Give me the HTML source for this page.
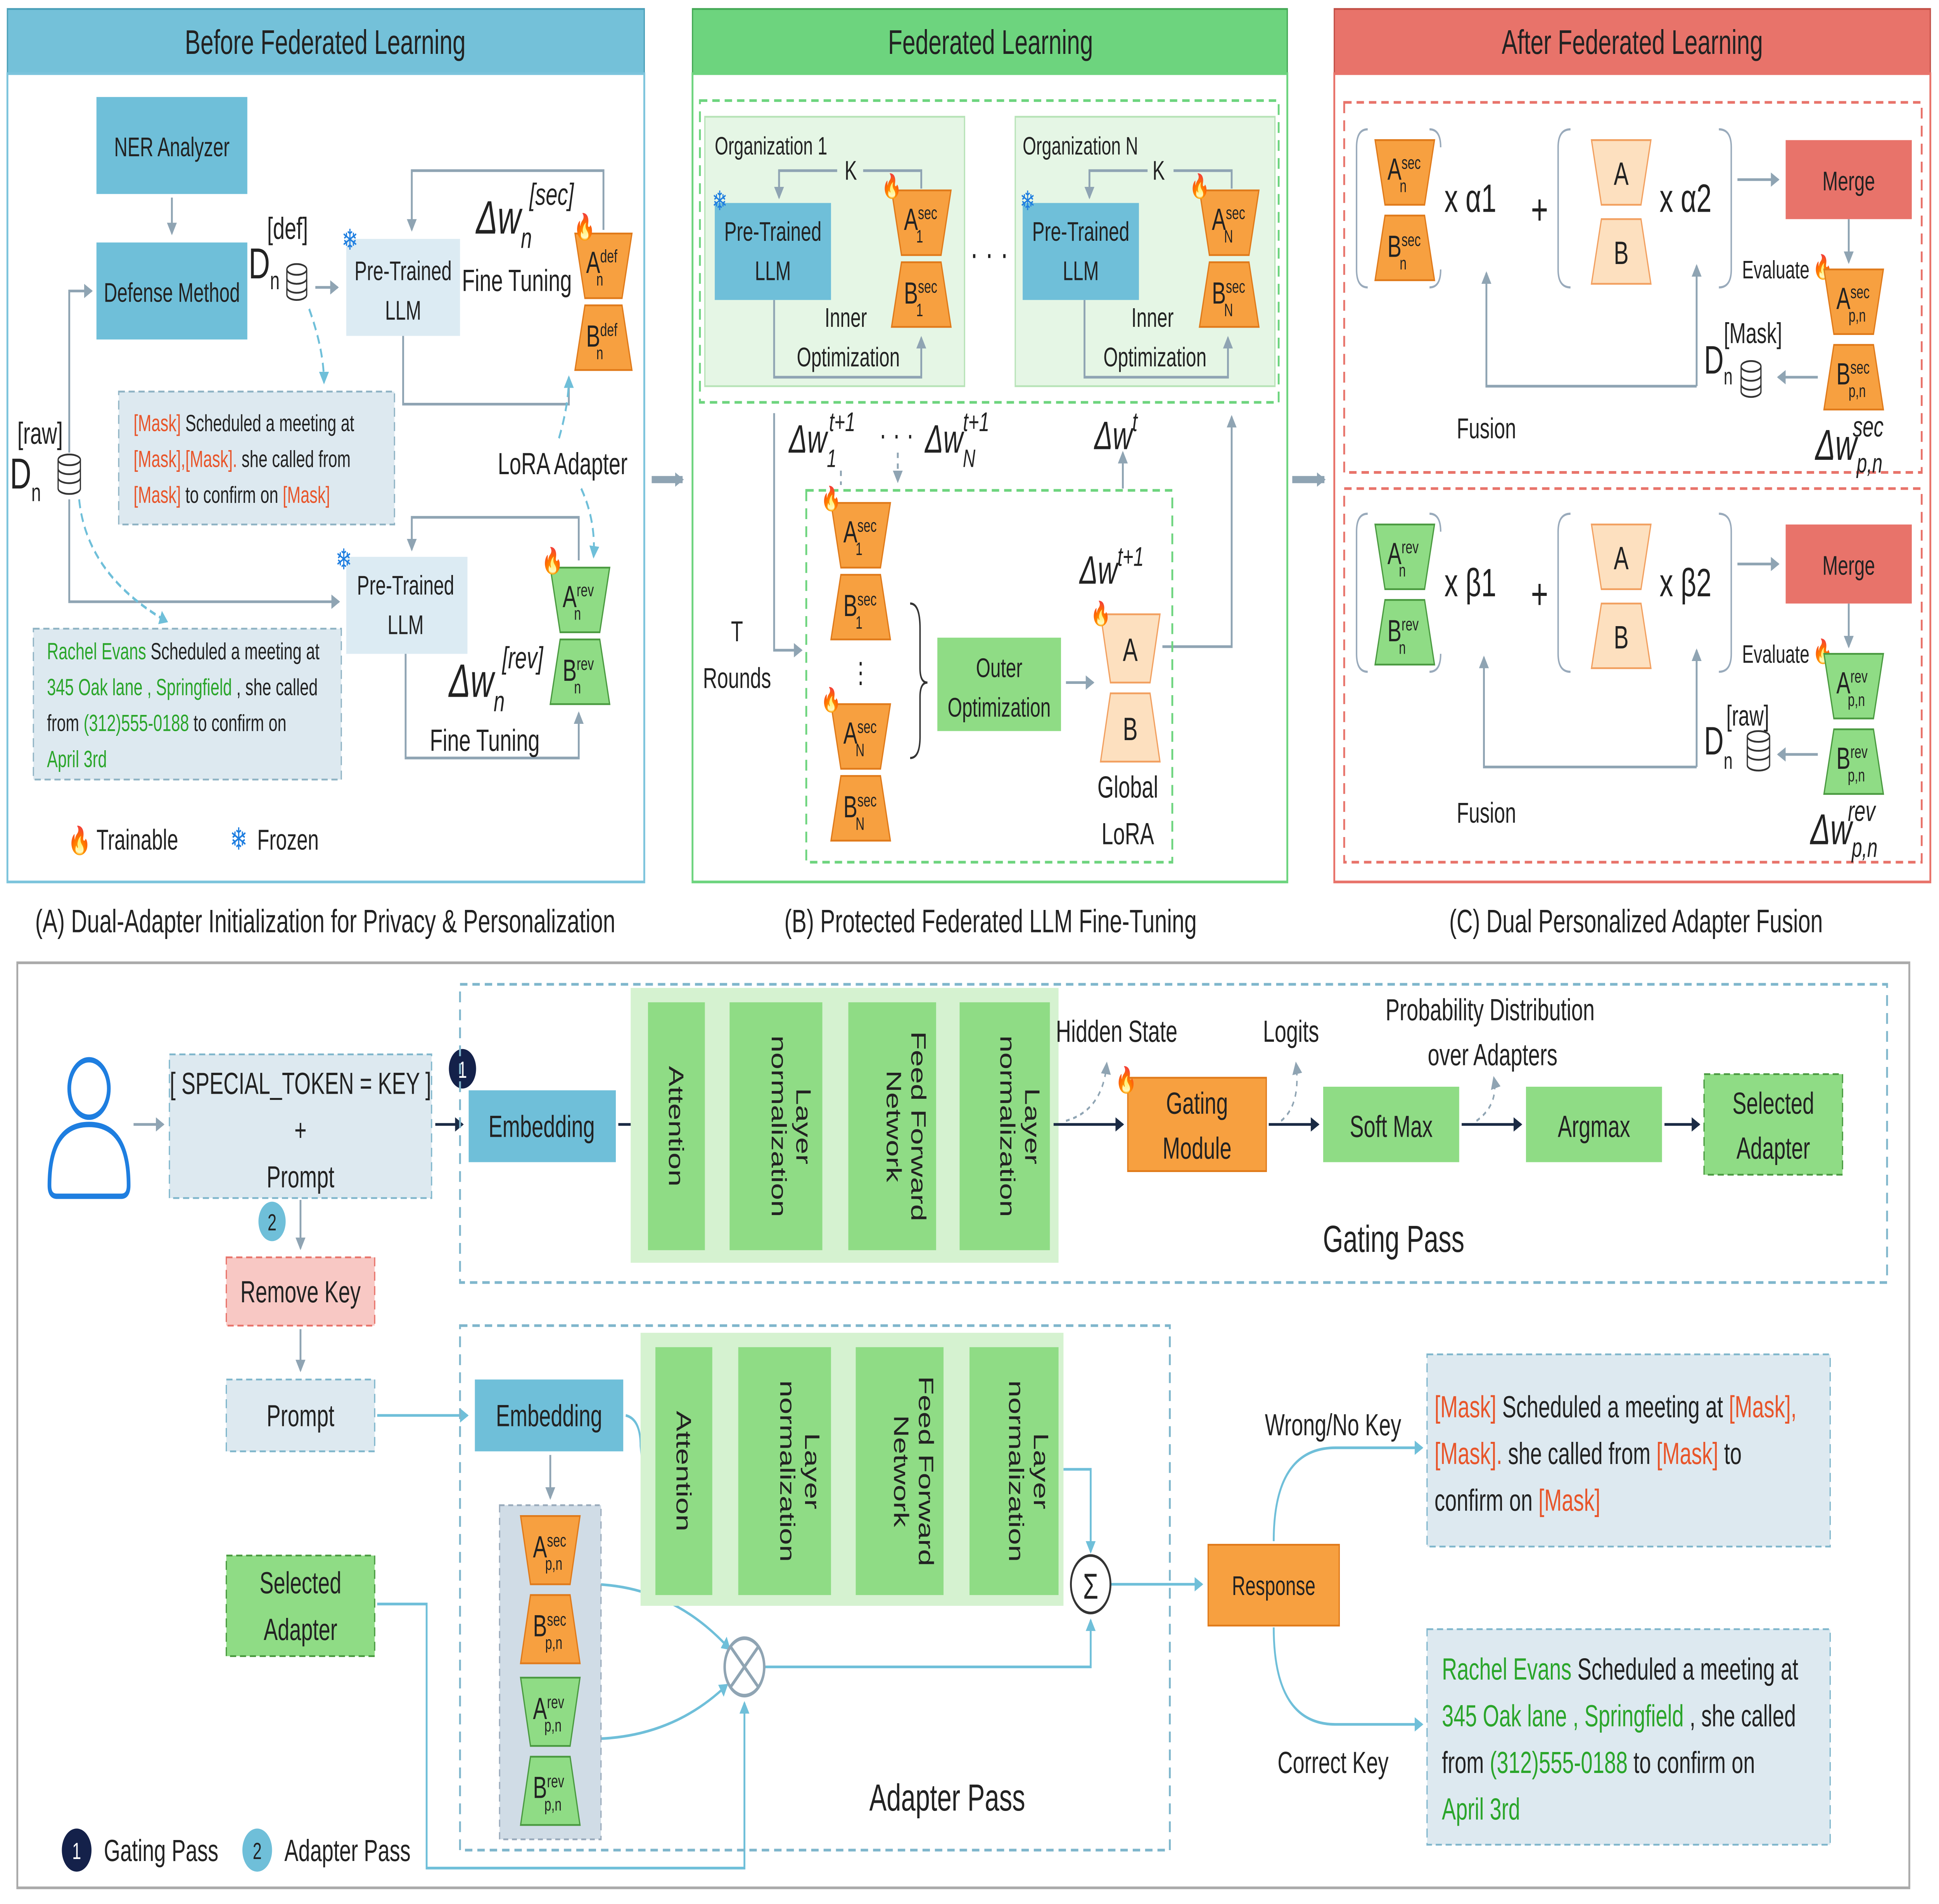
<!DOCTYPE html>
<html><head><meta charset="utf-8"><meta name="viewport" content="width=device-width, initial-scale=1"><style>
html,body{margin:0;padding:0;background:#fff;overflow:hidden;width:100vw;height:100vh}
svg{display:block;width:100vw;height:100vh}
text{font-family:"Liberation Sans",sans-serif;fill:#222}
</style></head><body>
<svg xmlns="http://www.w3.org/2000/svg" viewBox="0 0 1568 1060" preserveAspectRatio="none">
<defs>
<marker id="ar" markerWidth="8" markerHeight="8" refX="6" refY="4" orient="auto" markerUnits="userSpaceOnUse"><path d="M0,0 L7,4 L0,8 z" fill="#8fa4b3"/></marker>
<marker id="ak" markerWidth="8" markerHeight="8" refX="6" refY="4" orient="auto" markerUnits="userSpaceOnUse"><path d="M0,0 L7,4 L0,8 z" fill="#1a2a44"/></marker>
<marker id="ac" markerWidth="8" markerHeight="8" refX="6" refY="4" orient="auto" markerUnits="userSpaceOnUse"><path d="M0,0 L7,4 L0,8 z" fill="#6fbfd9"/></marker>
</defs>
<rect width="1568" height="1060" fill="#fff"/>

<rect x="6" y="5" width="515" height="36" fill="#74c1d9" stroke="#4a9fb8"/>
<text x="263" y="30" font-size="19" text-anchor="middle">Before Federated Learning</text>
<rect x="6" y="41" width="515" height="450" fill="#fff" stroke="#7cc4dc" stroke-width="1.5"/>
<rect x="560" y="5" width="481" height="36" fill="#6dd47e" stroke="#44a855"/>
<text x="801" y="30" font-size="19" text-anchor="middle">Federated Learning</text>
<rect x="560" y="41" width="481" height="450" fill="#fff" stroke="#6dd47e" stroke-width="1.5"/>
<rect x="1079" y="5" width="482" height="36" fill="#e8736a" stroke="#c24f46"/>
<text x="1320" y="30" font-size="19" text-anchor="middle">After Federated Learning</text>
<rect x="1079" y="41" width="482" height="450" fill="#fff" stroke="#e8736a" stroke-width="1.5"/>

<text x="263" y="519" font-size="18" text-anchor="middle">(A) Dual-Adapter Initialization for Privacy &amp; Personalization</text>
<text x="801" y="519" font-size="18" text-anchor="middle">(B) Protected Federated LLM Fine-Tuning</text>
<text x="1323" y="519" font-size="18" text-anchor="middle">(C) Dual Personalized Adapter Fusion</text>

<path d="M527,267 L552,267" stroke="#8fa4b3" stroke-width="4" marker-end="url(#ar)"/>
<path d="M1045,267 L1071,267" stroke="#8fa4b3" stroke-width="4" marker-end="url(#ar)"/>

<g stroke="#8fa4b3" stroke-width="1.5" fill="none">
<path d="M139,110 L139,130" marker-end="url(#ar)"/>
<path d="M255,160 L273,160" marker-end="url(#ar)"/>
<path d="M488,128 L488,95 L333,95 L333,128" marker-end="url(#ar)"/>
<path d="M326,187 L326,225 L460,225 L460,210" marker-end="url(#ar)"/>
<path d="M56,252 L56,162 L74,162" marker-end="url(#ar)"/>
<path d="M56,278 L56,335 L274,335" marker-end="url(#ar)"/>
<path d="M468,312 L468,288 L333,288 L333,306" marker-end="url(#ar)"/>
<path d="M328,364 L328,422 L468,422 L468,397" marker-end="url(#ar)"/>
</g>
<g stroke="#6fbfd9" stroke-width="1.5" fill="none" stroke-dasharray="5,3">
<path d="M250,172 Q262,195 262,213" marker-end="url(#ac)"/>
<path d="M64,278 Q70,320 135,346" marker-end="url(#ac)"/>
<path d="M452,244 Q460,225 460,210" marker-end="url(#ac)"/>
<path d="M470,272 Q482,290 480,310" marker-end="url(#ac)"/>
</g>
<rect x="78" y="54" width="122" height="54" fill="#6fbfd9"/>
<text x="139" y="87" font-size="15" text-anchor="middle">NER  Analyzer</text>
<rect x="78" y="135" width="122" height="54" fill="#6fbfd9"/>
<text x="139" y="168" font-size="15" text-anchor="middle">Defense Method</text>
<text x="216" y="133" font-size="17">[def]</text>
<text x="201" y="155" font-size="24">D<tspan font-size="14" dy="6">n</tspan></text>
<g fill="none" stroke="#333" stroke-width="1"><ellipse cx="240" cy="150" rx="8" ry="3"/><path d="M232,150 V164 A8,3 0 0 0 248,164 V150"/><path d="M232,155 A8,3 0 0 0 248,155 M232,160 A8,3 0 0 0 248,160"/></g>
<rect x="280" y="133" width="92" height="54" fill="#dcebf3"/>
<text x="326" y="156" font-size="15" text-anchor="middle">Pre-Trained</text>
<text x="326" y="178" font-size="15" text-anchor="middle">LLM</text>
<text x="283" y="139" font-size="16" style="fill:#1e7ee0" text-anchor="middle">❄</text>
<text x="385" y="130" font-size="26" font-style="italic">Δw<tspan font-size="16" dy="8">n</tspan><tspan font-size="17" dy="-24" dx="-2">[sec]</tspan></text>
<text x="418" y="162" font-size="17" text-anchor="middle">Fine Tuning</text>
<polygon points="465,130 511,130 503,166 473,166" fill="#f7a040" stroke="#e07a1a"/>
<text x="474" y="152" font-size="17">A<tspan font-size="10" dy="-6">def</tspan><tspan font-size="10" dx="-17" dy="13">n</tspan></text>
<polygon points="473,170 503,170 511,206 465,206" fill="#f7a040" stroke="#e07a1a"/>
<text x="474" y="193" font-size="17">B<tspan font-size="10" dy="-6">def</tspan><tspan font-size="10" dx="-17" dy="13">n</tspan></text>
<text x="464" y="131" font-size="14">🔥</text>

<rect x="96" y="218" width="223" height="74" fill="#dde9f0" stroke="#8fb3c4" stroke-dasharray="5,3"/>
<text x="108" y="240" font-size="13"><tspan style="fill:#e8552a">[Mask]</tspan> Scheduled a meeting at</text>
<text x="108" y="260" font-size="13"><tspan style="fill:#e8552a">[Mask],[Mask].</tspan> she called from</text>
<text x="108" y="280" font-size="13"><tspan style="fill:#e8552a">[Mask]</tspan> to confirm on <tspan style="fill:#e8552a">[Mask]</tspan></text>

<text x="14" y="247" font-size="17">[raw]</text>
<text x="8" y="272" font-size="24">D<tspan font-size="14" dy="7">n</tspan></text>
<g fill="none" stroke="#333" stroke-width="1"><ellipse cx="56" cy="256" rx="9" ry="3"/><path d="M47,256 V272 A9,3 0 0 0 65,272 V256"/><path d="M47,261 A9,3 0 0 0 65,261 M47,266 A9,3 0 0 0 65,266"/></g>
<text x="455" y="264" font-size="17" text-anchor="middle">LoRA Adapter</text>

<rect x="280" y="310" width="98" height="54" fill="#dcebf3"/>
<text x="328" y="331" font-size="15" text-anchor="middle">Pre-Trained</text>
<text x="328" y="353" font-size="15" text-anchor="middle">LLM</text>
<text x="278" y="317" font-size="16" style="fill:#1e7ee0" text-anchor="middle">❄</text>
<polygon points="445,316 493,316 485,352 453,352" fill="#8fdc85" stroke="#4a9a40"/>
<text x="455" y="338" font-size="17">A<tspan font-size="10" dy="-6">rev</tspan><tspan font-size="10" dx="-16" dy="13">n</tspan></text>
<polygon points="453,356 485,356 493,392 445,392" fill="#8fdc85" stroke="#4a9a40"/>
<text x="455" y="379" font-size="17">B<tspan font-size="10" dy="-6">rev</tspan><tspan font-size="10" dx="-16" dy="13">n</tspan></text>
<text x="438" y="317" font-size="14">🔥</text>
<text x="363" y="388" font-size="26" font-style="italic">Δw<tspan font-size="16" dy="8">n</tspan><tspan font-size="17" dy="-24" dx="-2">[rev]</tspan></text>
<text x="392" y="418" font-size="17" text-anchor="middle">Fine Tuning</text>

<rect x="27" y="350" width="249" height="84" fill="#dde9f0" stroke="#8fb3c4" stroke-dasharray="5,3"/>
<text x="38" y="367" font-size="13"><tspan style="fill:#2aa52a">Rachel Evans</tspan> Scheduled a meeting at</text>
<text x="38" y="387" font-size="13"><tspan style="fill:#2aa52a">345 Oak lane , Springfield</tspan> , she called</text>
<text x="38" y="407" font-size="13">from <tspan style="fill:#2aa52a">(312)555-0188</tspan> to confirm on</text>
<text x="38" y="427" font-size="13" style="fill:#2aa52a">April 3rd</text>

<text x="55" y="473" font-size="15">🔥</text><text x="78" y="473" font-size="16">Trainable</text>
<text x="193" y="473" font-size="17" style="fill:#1e7ee0" text-anchor="middle">❄</text><text x="208" y="473" font-size="16">Frozen</text>

<rect x="566" y="56" width="468" height="168" fill="none" stroke="#6dd47e" stroke-width="1.5" stroke-dasharray="6,4"/>
<rect x="570" y="65" width="210" height="150" fill="#e5f6e5" stroke="#b7e3b7"/>
<rect x="821" y="65" width="210" height="150" fill="#e5f6e5" stroke="#b7e3b7"/>
<text x="578" y="86" font-size="14">Organization 1</text>
<text x="827" y="86" font-size="14">Organization N</text>
<g stroke="#8fa4b3" stroke-width="1.5" fill="none">
<path d="M745,105 L745,95 L698,95 M677,95 L630,95 L630,110" marker-end="url(#ar)"/>
<path d="M996,105 L996,95 L949,95 M928,95 L881,95 L881,110" marker-end="url(#ar)"/>
<path d="M626,167 L626,210 L745,210 L745,188" marker-end="url(#ar)"/>
<path d="M877,167 L877,210 L993,210 L993,188" marker-end="url(#ar)"/>
<path d="M626,230 L626,362 L648,362" marker-end="url(#ar)"/>
<path d="M862,380 L884,380" marker-end="url(#ar)"/>
<path d="M940,360 L996,360 L996,232" marker-end="url(#ar)"/>
<path d="M908,272 L908,252" marker-end="url(#ar)"/>
</g>
<g stroke="#8fa4b3" stroke-width="1.5" fill="none" stroke-dasharray="3,3">
<path d="M680,262 L680,270" /><path d="M726,252 L726,268" marker-end="url(#ar)"/>
</g>
<text x="688" y="100" font-size="15" text-anchor="middle">K</text>
<text x="937" y="100" font-size="15" text-anchor="middle">K</text>
<rect x="578" y="113" width="94" height="54" fill="#6fbfd9"/>
<text x="625" y="134" font-size="15" text-anchor="middle">Pre-Trained</text>
<text x="625" y="156" font-size="15" text-anchor="middle">LLM</text>
<rect x="827" y="113" width="94" height="54" fill="#6fbfd9"/>
<text x="874" y="134" font-size="15" text-anchor="middle">Pre-Trained</text>
<text x="874" y="156" font-size="15" text-anchor="middle">LLM</text>
<text x="582" y="117" font-size="15" style="fill:#1e7ee0" text-anchor="middle">❄</text>
<text x="831" y="117" font-size="15" style="fill:#1e7ee0" text-anchor="middle">❄</text>
<text x="684" y="182" font-size="15" text-anchor="middle">Inner</text>
<text x="686" y="204" font-size="15" text-anchor="middle">Optimization</text>
<text x="932" y="182" font-size="15" text-anchor="middle">Inner</text>
<text x="934" y="204" font-size="15" text-anchor="middle">Optimization</text>
<text x="800" y="148" font-size="20" text-anchor="middle">· · ·</text>

<polygon points="721,106 769,106 761,142 729,142" fill="#f7a040" stroke="#e07a1a"/>
<text x="731" y="128" font-size="17">A<tspan font-size="10" dy="-6">sec</tspan><tspan font-size="10" dx="-17" dy="13">1</tspan></text>
<polygon points="729,146 761,146 769,182 721,182" fill="#f7a040" stroke="#e07a1a"/>
<text x="731" y="169" font-size="17">B<tspan font-size="10" dy="-6">sec</tspan><tspan font-size="10" dx="-17" dy="13">1</tspan></text>
<text x="713" y="108" font-size="13">🔥</text>
<polygon points="970,106 1018,106 1010,142 978,142" fill="#f7a040" stroke="#e07a1a"/>
<text x="980" y="128" font-size="17">A<tspan font-size="10" dy="-6">sec</tspan><tspan font-size="10" dx="-17" dy="13">N</tspan></text>
<polygon points="978,146 1010,146 1018,182 970,182" fill="#f7a040" stroke="#e07a1a"/>
<text x="980" y="169" font-size="17">B<tspan font-size="10" dy="-6">sec</tspan><tspan font-size="10" dx="-17" dy="13">N</tspan></text>
<text x="962" y="108" font-size="13">🔥</text>

<text x="638" y="252" font-size="22" font-style="italic">Δw<tspan font-size="14" dy="8">1</tspan><tspan font-size="15" dy="-20" dx="-6">t+1</tspan></text>
<text x="725" y="248" font-size="18" text-anchor="middle">· · ·</text>
<text x="748" y="252" font-size="22" font-style="italic">Δw<tspan font-size="14" dy="8">N</tspan><tspan font-size="15" dy="-20" dx="-10">t+1</tspan></text>
<text x="885" y="250" font-size="22" font-style="italic">Δw<tspan font-size="15" dy="-10">t</tspan></text>

<rect x="652" y="273" width="296" height="207" fill="none" stroke="#6dd47e" stroke-width="1.5" stroke-dasharray="6,4"/>
<text x="596" y="357" font-size="16" text-anchor="middle">T</text>
<text x="596" y="383" font-size="16" text-anchor="middle">Rounds</text>
<polygon points="672,280 720,280 712,316 680,316" fill="#f7a040" stroke="#e07a1a"/>
<text x="682" y="302" font-size="17">A<tspan font-size="10" dy="-6">sec</tspan><tspan font-size="10" dx="-17" dy="13">1</tspan></text>
<polygon points="680,320 712,320 720,356 672,356" fill="#f7a040" stroke="#e07a1a"/>
<text x="682" y="343" font-size="17">B<tspan font-size="10" dy="-6">sec</tspan><tspan font-size="10" dx="-17" dy="13">1</tspan></text>
<text x="664" y="282" font-size="13">🔥</text>
<text x="696" y="380" font-size="16" text-anchor="middle">⋮</text>
<polygon points="672,392 720,392 712,428 680,428" fill="#f7a040" stroke="#e07a1a"/>
<text x="682" y="414" font-size="17">A<tspan font-size="10" dy="-6">sec</tspan><tspan font-size="10" dx="-17" dy="13">N</tspan></text>
<polygon points="680,432 712,432 720,468 672,468" fill="#f7a040" stroke="#e07a1a"/>
<text x="682" y="455" font-size="17">B<tspan font-size="10" dy="-6">sec</tspan><tspan font-size="10" dx="-17" dy="13">N</tspan></text>
<text x="664" y="394" font-size="13">🔥</text>
<path d="M736,336 Q744,336 744,350 L744,372 Q744,380 750,380 Q744,380 744,388 L744,410 Q744,422 736,422" fill="none" stroke="#333" stroke-width="1.2"/>
<rect x="758" y="355" width="100" height="52" fill="#8fdc85"/>
<text x="808" y="377" font-size="15" text-anchor="middle">Outer</text>
<text x="808" y="399" font-size="15" text-anchor="middle">Optimization</text>
<text x="873" y="325" font-size="22" font-style="italic">Δw<tspan font-size="15" dy="-10">t+1</tspan></text>
<polygon points="890,342 938,342 930,380 898,380" fill="#fde0bf" stroke="#f2a060"/>
<text x="914" y="368" font-size="18" text-anchor="middle">A</text>
<polygon points="898,386 930,386 938,424 890,424" fill="#fde0bf" stroke="#f2a060"/>
<text x="914" y="412" font-size="18" text-anchor="middle">B</text>
<text x="882" y="346" font-size="13">🔥</text>
<text x="912" y="444" font-size="17" text-anchor="middle">Global</text>
<text x="912" y="470" font-size="17" text-anchor="middle">LoRA</text>

<rect x="1087" y="57" width="467" height="206" fill="none" stroke="#e8736a" stroke-width="1.5" stroke-dasharray="6,4"/>
<rect x="1087" y="272" width="467" height="208" fill="none" stroke="#e8736a" stroke-width="1.5" stroke-dasharray="6,4"/>
<g fill="none" stroke="#9ab" stroke-width="1.2">
<path d="M1106,72 Q1097,72 1097,82 L1097,150 Q1097,160 1106,160 M1156,72 Q1165,72 1165,82 M1165,150 Q1165,160 1156,160"/>
<path d="M1270,72 Q1260,72 1260,82 L1260,150 Q1260,160 1270,160 M1390,72 Q1400,72 1400,82 L1400,150 Q1400,160 1390,160"/>
<path d="M1106,286 Q1097,286 1097,296 L1097,364 Q1097,374 1106,374 M1156,286 Q1165,286 1165,296 M1165,364 Q1165,374 1156,374"/>
<path d="M1270,286 Q1260,286 1260,296 L1260,364 Q1260,374 1270,374 M1390,286 Q1400,286 1400,296 L1400,364 Q1400,374 1390,374"/>
</g>
<g stroke="#8fa4b3" stroke-width="1.5" fill="none">
<path d="M1405,100 L1438,100" marker-end="url(#ar)"/>
<path d="M1495,122 L1495,146" marker-end="url(#ar)"/>
<path d="M1470,210 L1438,210" marker-end="url(#ar)"/>
<path d="M1372,215 L1202,215 L1202,152" marker-end="url(#ar)"/>
<path d="M1372,215 L1372,148" marker-end="url(#ar)"/>
<path d="M1405,314 L1438,314" marker-end="url(#ar)"/>
<path d="M1495,336 L1495,360" marker-end="url(#ar)"/>
<path d="M1470,420 L1438,420" marker-end="url(#ar)"/>
<path d="M1372,427 L1200,427 L1200,366" marker-end="url(#ar)"/>
<path d="M1372,427 L1372,362" marker-end="url(#ar)"/>
</g>
<polygon points="1112,78 1160,78 1152,114 1120,114" fill="#f7a040" stroke="#e07a1a"/>
<text x="1122" y="100" font-size="17">A<tspan font-size="10" dy="-6">sec</tspan><tspan font-size="10" dx="-17" dy="13">n</tspan></text>
<polygon points="1120,120 1152,120 1160,156 1112,156" fill="#f7a040" stroke="#e07a1a"/>
<text x="1122" y="143" font-size="17">B<tspan font-size="10" dy="-6">sec</tspan><tspan font-size="10" dx="-17" dy="13">n</tspan></text>
<text x="1168" y="118" font-size="22">x α1</text>
<text x="1245" y="125" font-size="24" text-anchor="middle">+</text>
<polygon points="1287,78 1335,78 1327,114 1295,114" fill="#fde0bf" stroke="#f2a060"/>
<text x="1311" y="103" font-size="18" text-anchor="middle">A</text>
<polygon points="1295,122 1327,122 1335,158 1287,158" fill="#fde0bf" stroke="#f2a060"/>
<text x="1311" y="147" font-size="18" text-anchor="middle">B</text>
<text x="1342" y="118" font-size="22">x α2</text>
<rect x="1444" y="78" width="102" height="44" fill="#e8736a"/>
<text x="1495" y="106" font-size="15" text-anchor="middle">Merge</text>
<text x="1436" y="155" font-size="14" text-anchor="middle">Evaluate</text>
<text x="1466" y="153" font-size="13">🔥</text>
<polygon points="1475,150 1523,150 1515,186 1483,186" fill="#f7a040" stroke="#e07a1a"/>
<text x="1485" y="172" font-size="17">A<tspan font-size="10" dy="-6">sec</tspan><tspan font-size="10" dx="-17" dy="13">p,n</tspan></text>
<polygon points="1483,192 1515,192 1523,228 1475,228" fill="#f7a040" stroke="#e07a1a"/>
<text x="1485" y="214" font-size="17">B<tspan font-size="10" dy="-6">sec</tspan><tspan font-size="10" dx="-17" dy="13">p,n</tspan></text>
<text x="1394" y="191" font-size="16">[Mask]</text>
<text x="1378" y="208" font-size="22">D<tspan font-size="13" dy="6">n</tspan></text>
<g fill="none" stroke="#333" stroke-width="1"><ellipse cx="1416" cy="204" rx="8" ry="3"/><path d="M1408,204 V218 A8,3 0 0 0 1424,218 V204"/><path d="M1408,209 A8,3 0 0 0 1424,209 M1408,214 A8,3 0 0 0 1424,214"/></g>
<text x="1202" y="244" font-size="16" text-anchor="middle">Fusion</text>
<text x="1468" y="256" font-size="24" font-style="italic">Δw<tspan font-size="15" dy="7">p,n</tspan><tspan font-size="16" dy="-20" dx="-24">sec</tspan></text>

<polygon points="1112,292 1160,292 1152,328 1120,328" fill="#8fdc85" stroke="#4a9a40"/>
<text x="1122" y="314" font-size="17">A<tspan font-size="10" dy="-6">rev</tspan><tspan font-size="10" dx="-16" dy="13">n</tspan></text>
<polygon points="1120,334 1152,334 1160,370 1112,370" fill="#8fdc85" stroke="#4a9a40"/>
<text x="1122" y="357" font-size="17">B<tspan font-size="10" dy="-6">rev</tspan><tspan font-size="10" dx="-16" dy="13">n</tspan></text>
<text x="1168" y="332" font-size="22">x β1</text>
<text x="1245" y="339" font-size="24" text-anchor="middle">+</text>
<polygon points="1287,292 1335,292 1327,328 1295,328" fill="#fde0bf" stroke="#f2a060"/>
<text x="1311" y="317" font-size="18" text-anchor="middle">A</text>
<polygon points="1295,336 1327,336 1335,372 1287,372" fill="#fde0bf" stroke="#f2a060"/>
<text x="1311" y="361" font-size="18" text-anchor="middle">B</text>
<text x="1342" y="332" font-size="22">x β2</text>
<rect x="1444" y="292" width="102" height="44" fill="#e8736a"/>
<text x="1495" y="320" font-size="15" text-anchor="middle">Merge</text>
<text x="1436" y="369" font-size="14" text-anchor="middle">Evaluate</text>
<text x="1466" y="367" font-size="13">🔥</text>
<polygon points="1475,364 1523,364 1515,400 1483,400" fill="#8fdc85" stroke="#4a9a40"/>
<text x="1485" y="386" font-size="17">A<tspan font-size="10" dy="-6">rev</tspan><tspan font-size="10" dx="-16" dy="13">p,n</tspan></text>
<polygon points="1483,406 1515,406 1523,442 1475,442" fill="#8fdc85" stroke="#4a9a40"/>
<text x="1485" y="428" font-size="17">B<tspan font-size="10" dy="-6">rev</tspan><tspan font-size="10" dx="-16" dy="13">p,n</tspan></text>
<text x="1396" y="404" font-size="16">[raw]</text>
<text x="1378" y="420" font-size="22">D<tspan font-size="13" dy="8">n</tspan></text>
<g fill="none" stroke="#333" stroke-width="1"><ellipse cx="1422" cy="410" rx="9" ry="3"/><path d="M1413,410 V426 A9,3 0 0 0 1431,426 V410"/><path d="M1413,415 A9,3 0 0 0 1431,415 M1413,420 A9,3 0 0 0 1431,420"/></g>
<text x="1202" y="458" font-size="16" text-anchor="middle">Fusion</text>
<text x="1464" y="470" font-size="24" font-style="italic">Δw<tspan font-size="15" dy="7">p,n</tspan><tspan font-size="16" dy="-20" dx="-24">rev</tspan></text>

<rect x="14" y="536" width="1530" height="515" fill="none" stroke="#aaa" stroke-width="1.5"/>
<g fill="none" stroke="#1e7ee0" stroke-width="3"><circle cx="72" cy="606" r="16"/><path d="M40,660 Q40,626 72,626 Q104,626 104,660 Q104,666 98,666 L46,666 Q40,666 40,660z"/></g>
<g stroke="#8fa4b3" stroke-width="1.5" fill="none">
<path d="M108,626 L132,626" marker-end="url(#ar)"/>
<path d="M243,668 L243,695" marker-end="url(#ar)"/>
<path d="M243,740 L243,763" marker-end="url(#ar)"/>
<path d="M445,810 L445,834" marker-end="url(#ar)"/>
</g>
<g stroke="#1a2a44" stroke-width="1.5" fill="none">
<path d="M574,626 L586,626" marker-end="url(#ak)"/><path d="M669,626 L681,626" marker-end="url(#ak)"/><path d="M760,626 L772,626" marker-end="url(#ak)"/>
</g>
<g stroke="#6fbfd9" stroke-width="1.5" fill="none">
<path d="M305,788 L378,788" marker-end="url(#ac)"/>
<path d="M506,788 Q518,790 518,805 L520,818 L524,818" marker-end="url(#ac)"/>
<path d="M578,818 L590,818" marker-end="url(#ac)"/><path d="M674,818 L686,818" marker-end="url(#ac)"/><path d="M766,818 L778,818" marker-end="url(#ac)"/>
<path d="M860,818 L882,818 L882,864" marker-end="url(#ac)"/>
<path d="M618,928 L882,928 L882,902" marker-end="url(#ac)"/>
<path d="M898,882 L972,882" marker-end="url(#ac)"/>
<path d="M468,882 Q540,880 590,918" marker-end="url(#ac)"/>
<path d="M468,968 Q540,970 588,938" marker-end="url(#ac)"/>
<path d="M305,893 L345,893 L345,1040 L602,1040 L602,948" marker-end="url(#ac)"/>
<path d="M1030,858 Q1030,806 1080,806 L1150,806" marker-end="url(#ac)"/>
<path d="M1030,906 Q1030,960 1080,960 L1150,960" marker-end="url(#ac)"/>
</g>
<rect x="137" y="587" width="212" height="80" fill="#dde9f0" stroke="#7fb6cc" stroke-dasharray="5,3"/>
<text x="243" y="609" font-size="17" text-anchor="middle">[ SPECIAL_TOKEN = KEY ]</text>
<text x="243" y="635" font-size="17" text-anchor="middle">+</text>
<text x="243" y="661" font-size="17" text-anchor="middle">Prompt</text>
<path d="M352,626 L374,626" stroke="#1a2a44" stroke-width="1.5" marker-end="url(#ak)"/>
<circle cx="374" cy="595" r="11" fill="#14214a"/><text x="374" y="600" font-size="13" text-anchor="middle" style="fill:#fff">1</text>
<circle cx="220" cy="680" r="11" fill="#6fbfd9"/><text x="220" y="685" font-size="13" text-anchor="middle">2</text>

<rect x="372" y="548" width="1154" height="166" fill="none" stroke="#7fb6cc" stroke-width="1.5" stroke-dasharray="6,4"/>
<rect x="379" y="607" width="119" height="40" fill="#6fbfd9"/>
<text x="438" y="633" font-size="17" text-anchor="middle">Embedding</text>
<path d="M500,626 L520,626" stroke="#1a2a44" stroke-width="1.5" marker-end="url(#ak)"/>
<rect x="510" y="550" width="346" height="153" fill="#d5f2d0"/>
<rect x="524" y="558" width="46" height="138" fill="#8fdc85"/>
<rect x="590" y="558" width="75" height="138" fill="#8fdc85"/>
<rect x="686" y="558" width="71" height="138" fill="#8fdc85"/>
<rect x="776" y="558" width="73" height="138" fill="#8fdc85"/>
<text transform="translate(541,627) rotate(90)" font-size="17" text-anchor="middle">Attention</text>
<text transform="translate(634,627) rotate(90)" font-size="17" text-anchor="middle"><tspan x="0" dy="-10">Layer</tspan><tspan x="0" dy="20">normalization</tspan></text>
<text transform="translate(727,627) rotate(90)" font-size="17" text-anchor="middle"><tspan x="0" dy="-10">Feed Forward</tspan><tspan x="0" dy="20">Network</tspan></text>
<text transform="translate(819,627) rotate(90)" font-size="17" text-anchor="middle"><tspan x="0" dy="-10">Layer</tspan><tspan x="0" dy="20">normalization</tspan></text>
<g stroke="#1a2a44" stroke-width="1.5" fill="none">
<path d="M852,626 L908,626" marker-end="url(#ak)"/>
<path d="M1026,626 L1066,626" marker-end="url(#ak)"/>
<path d="M1182,626 L1230,626" marker-end="url(#ak)"/>
<path d="M1346,626 L1374,626" marker-end="url(#ak)"/>
</g>
<g stroke="#8fa4b3" stroke-width="1.2" fill="none" stroke-dasharray="3,3">
<path d="M862,624 Q892,618 895,592" marker-end="url(#ar)"/>
<path d="M1036,624 Q1052,615 1048,592" marker-end="url(#ar)"/>
<path d="M1194,624 Q1212,615 1208,600" marker-end="url(#ar)"/>
</g>
<text x="903" y="580" font-size="17" text-anchor="middle">Hidden State</text>
<rect x="912" y="600" width="112" height="52" fill="#f7a040" stroke="#e07a1a"/>
<text x="968" y="620" font-size="17" text-anchor="middle">Gating</text>
<text x="968" y="645" font-size="17" text-anchor="middle">Module</text>
<text x="902" y="606" font-size="14">🔥</text>
<text x="1044" y="580" font-size="17" text-anchor="middle">Logits</text>
<text x="1205" y="568" font-size="17" text-anchor="middle">Probability Distribution</text>
<text x="1207" y="593" font-size="17" text-anchor="middle">over Adapters</text>
<rect x="1070" y="605" width="110" height="42" fill="#8fdc85"/>
<text x="1125" y="633" font-size="17" text-anchor="middle">Soft Max</text>
<rect x="1234" y="605" width="110" height="42" fill="#8fdc85"/>
<text x="1289" y="633" font-size="17" text-anchor="middle">Argmax</text>
<rect x="1378" y="598" width="112" height="56" fill="#8fdc85" stroke="#4a9a40" stroke-dasharray="5,3"/>
<text x="1434" y="620" font-size="17" text-anchor="middle">Selected</text>
<text x="1434" y="645" font-size="17" text-anchor="middle">Adapter</text>
<text x="1127" y="697" font-size="21" text-anchor="middle">Gating Pass</text>

<rect x="183" y="700" width="120" height="38" fill="#f8c8c4" stroke="#e8736a" stroke-dasharray="5,3"/>
<text x="243" y="725" font-size="17" text-anchor="middle">Remove Key</text>
<rect x="183" y="768" width="120" height="40" fill="#dde9f0" stroke="#7fb6cc" stroke-dasharray="5,3"/>
<text x="243" y="794" font-size="17" text-anchor="middle">Prompt</text>

<rect x="372" y="738" width="574" height="292" fill="none" stroke="#7fb6cc" stroke-width="1.5" stroke-dasharray="6,4"/>
<rect x="384" y="768" width="120" height="40" fill="#6fbfd9"/>
<text x="444" y="794" font-size="17" text-anchor="middle">Embedding</text>
<rect x="518" y="742" width="342" height="152" fill="#d5f2d0"/>
<rect x="530" y="750" width="46" height="138" fill="#8fdc85"/>
<rect x="597" y="750" width="75" height="138" fill="#8fdc85"/>
<rect x="692" y="750" width="71" height="138" fill="#8fdc85"/>
<rect x="784" y="750" width="72" height="138" fill="#8fdc85"/>
<text transform="translate(547,819) rotate(90)" font-size="17" text-anchor="middle">Attention</text>
<text transform="translate(641,819) rotate(90)" font-size="17" text-anchor="middle"><tspan x="0" dy="-10">Layer</tspan><tspan x="0" dy="20">normalization</tspan></text>
<text transform="translate(733,819) rotate(90)" font-size="17" text-anchor="middle"><tspan x="0" dy="-10">Feed Forward</tspan><tspan x="0" dy="20">Network</tspan></text>
<text transform="translate(826,819) rotate(90)" font-size="17" text-anchor="middle"><tspan x="0" dy="-10">Layer</tspan><tspan x="0" dy="20">normalization</tspan></text>

<rect x="404" y="838" width="82" height="186" fill="#d0dce6" stroke="#9ab" stroke-dasharray="4,3"/>
<polygon points="421,844 469,844 461,882 429,882" fill="#f7a040" stroke="#e07a1a"/>
<text x="431" y="867" font-size="17">A<tspan font-size="10" dy="-6">sec</tspan><tspan font-size="10" dx="-17" dy="13">p,n</tspan></text>
<polygon points="429,888 461,888 469,926 421,926" fill="#f7a040" stroke="#e07a1a"/>
<text x="431" y="911" font-size="17">B<tspan font-size="10" dy="-6">sec</tspan><tspan font-size="10" dx="-17" dy="13">p,n</tspan></text>
<polygon points="421,934 469,934 461,972 429,972" fill="#8fdc85" stroke="#4a9a40"/>
<text x="431" y="957" font-size="17">A<tspan font-size="10" dy="-6">rev</tspan><tspan font-size="10" dx="-16" dy="13">p,n</tspan></text>
<polygon points="429,978 461,978 469,1016 421,1016" fill="#8fdc85" stroke="#4a9a40"/>
<text x="431" y="1001" font-size="17">B<tspan font-size="10" dy="-6">rev</tspan><tspan font-size="10" dx="-16" dy="13">p,n</tspan></text>

<circle cx="602" cy="928" r="16" fill="#fff" stroke="#8fa4b3" stroke-width="2"/>
<path d="M591,917 L613,939 M613,917 L591,939" stroke="#8fa4b3" stroke-width="2"/>
<circle cx="882" cy="882" r="16" fill="#fff" stroke="#333" stroke-width="1.5"/>
<text x="882" y="890" font-size="20" text-anchor="middle">Σ</text>

<rect x="183" y="866" width="120" height="56" fill="#8fdc85" stroke="#4a9a40" stroke-dasharray="5,3"/>
<text x="243" y="887" font-size="17" text-anchor="middle">Selected</text>
<text x="243" y="913" font-size="17" text-anchor="middle">Adapter</text>
<text x="766" y="1008" font-size="21" text-anchor="middle">Adapter Pass</text>

<rect x="977" y="860" width="106" height="45" fill="#f7a040" stroke="#e07a1a"/>
<text x="1030" y="888" font-size="15" text-anchor="middle">Response</text>
<text x="1078" y="799" font-size="17" text-anchor="middle">Wrong/No Key</text>
<text x="1078" y="987" font-size="17" text-anchor="middle">Correct Key</text>

<rect x="1154" y="754" width="326" height="107" fill="#dde9f0" stroke="#7fb6cc" stroke-dasharray="5,3"/>
<text x="1160" y="789" font-size="17"><tspan style="fill:#e8552a">[Mask]</tspan> Scheduled a meeting at <tspan style="fill:#e8552a">[Mask],</tspan></text>
<text x="1160" y="815" font-size="17"><tspan style="fill:#e8552a">[Mask].</tspan> she called from <tspan style="fill:#e8552a">[Mask]</tspan> to</text>
<text x="1160" y="841" font-size="17">confirm on <tspan style="fill:#e8552a">[Mask]</tspan></text>

<rect x="1154" y="907" width="326" height="120" fill="#dde9f0" stroke="#7fb6cc" stroke-dasharray="5,3"/>
<text x="1166" y="935" font-size="17"><tspan style="fill:#2aa52a">Rachel Evans</tspan> Scheduled a meeting at</text>
<text x="1166" y="961" font-size="17"><tspan style="fill:#2aa52a">345 Oak lane , Springfield</tspan> , she called</text>
<text x="1166" y="987" font-size="17">from <tspan style="fill:#2aa52a">(312)555-0188</tspan> to confirm on</text>
<text x="1166" y="1013" font-size="17" style="fill:#2aa52a">April 3rd</text>

<circle cx="62" cy="1030" r="12" fill="#14214a"/><text x="62" y="1035" font-size="13" text-anchor="middle" style="fill:#fff">1</text>
<text x="84" y="1036" font-size="17">Gating Pass</text>
<circle cx="208" cy="1030" r="12" fill="#6fbfd9"/><text x="208" y="1035" font-size="13" text-anchor="middle">2</text>
<text x="230" y="1036" font-size="17">Adapter Pass</text>
</svg>
</body></html>
